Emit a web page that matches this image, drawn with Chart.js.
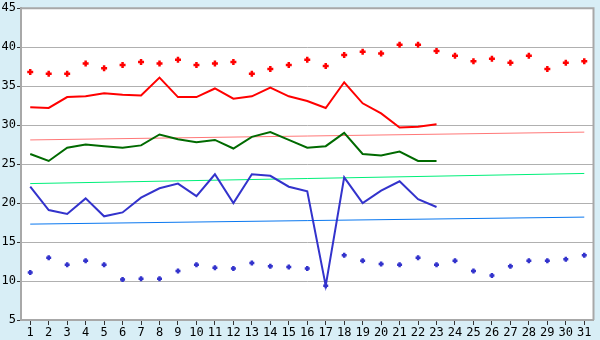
<!DOCTYPE html>
<html>
<head>
<meta charset="utf-8">
<script src="https://cdn.jsdelivr.net/npm/chart.js@4"></script>
<style>
  body { margin: 0; background: #D8EEF6; }
  canvas { display: block; }
</style>
</head>
<body>
<canvas id="chart" width="600" height="340"></canvas>
<script>
// days of the month
const days = ['1','2','3','4','5','6','7','8','9','10','11','12','13','14','15','16',
  '17','18','19','20','21','22','23','24','25','26','27','28','29','30','31'];

// red crosses (upper record)
const highDots = [36.8, 36.6, 36.6, 37.9, 37.3, 37.7, 38.1, 37.9, 38.4, 37.7, 37.9, 38.1, 36.6, 37.2, 37.7, 38.4,
  37.6, 39.0, 39.4, 39.2, 40.3, 40.3, 39.5, 38.9, 38.2, 38.5, 38.0, 38.9, 37.2, 38.0, 38.2];

// the three daily lines (days 1-23)
const highLine = [32.3, 32.2, 33.6, 33.7, 34.1, 33.9, 33.8, 36.1, 33.6, 33.6, 34.7, 33.4, 33.7, 34.8, 33.7, 33.1,
  32.2, 35.5, 32.8, 31.5, 29.7, 29.8, 30.1];
const meanLine = [26.3, 25.4, 27.1, 27.5, 27.3, 27.1, 27.4, 28.8, 28.2, 27.8, 28.1, 27.0, 28.5, 29.1, 28.1, 27.1,
  27.3, 29.0, 26.3, 26.1, 26.6, 25.4, 25.4];
const lowLine = [22.1, 19.1, 18.6, 20.6, 18.3, 18.8, 20.7, 21.9, 22.5, 20.9, 23.7, 20.0, 23.7, 23.5, 22.1, 21.5,
  9.4, 23.3, 20.0, 21.6, 22.8, 20.5, 19.5];

// blue crosses (lower record)
const lowDots = [11.1, 13.0, 12.1, 12.6, 12.1, 10.2, 10.3, 10.3, 11.3, 12.1, 11.7, 11.6, 12.3, 11.9, 11.8, 11.6,
  9.4, 13.3, 12.6, 12.2, 12.1, 13.0, 12.1, 12.6, 11.3, 10.7, 11.9, 12.6, 12.6, 12.8, 13.3];

// normals: value on day 1 and on day 31
const highNormal = [28.1, 29.1];
const meanNormal = [22.5, 23.8];
const lowNormal = [17.3, 18.2];

const yTicks = [5, 10, 15, 20, 25, 30, 35, 40, 45];

function normal(ends) {
  return [{ x: days[0], y: ends[0] }, { x: days[days.length - 1], y: ends[1] }];
}

// light blue page, white plot area, grey frame
const framePlugin = {
  id: 'frame',
  beforeDraw(chart) {
    const ctx = chart.ctx;
    const a = chart.chartArea;
    ctx.save();
    ctx.fillStyle = '#D8EEF6';
    ctx.fillRect(0, 0, chart.width, chart.height);
    ctx.fillStyle = '#FFFFFF';
    ctx.fillRect(a.left, a.top, a.right - a.left, a.bottom - a.top);
    ctx.restore();
  },
  beforeDatasetsDraw(chart) {
    const ctx = chart.ctx;
    const a = chart.chartArea;
    ctx.save();
    ctx.strokeStyle = '#A8A8A8';
    ctx.lineWidth = 2;
    ctx.beginPath();
    ctx.moveTo(a.left, a.top);
    ctx.lineTo(a.right, a.top);
    ctx.lineTo(a.right, a.bottom);
    ctx.stroke();
    ctx.restore();
  }
};

const tickFont = { family: 'DejaVu Sans Mono', size: 12 };

new Chart(document.getElementById('chart'), {
  type: 'line',
  data: {
    labels: days,
    datasets: [
      { data: normal(highNormal), borderColor: '#FF7878', borderWidth: 1, pointRadius: 0, order: 10 },
      { data: normal(meanNormal), borderColor: '#00F07A', borderWidth: 1, pointRadius: 0, order: 10 },
      { data: normal(lowNormal), borderColor: '#0A78F0', borderWidth: 1, pointRadius: 0, order: 10 },
      { data: highLine, borderColor: '#FF0000', borderWidth: 2, pointRadius: 0, order: 5 },
      { data: meanLine, borderColor: '#006A00', borderWidth: 2, pointRadius: 0, order: 5 },
      { data: lowLine, borderColor: '#3333CC', borderWidth: 2, pointRadius: 0, order: 5 },
      {
        data: highDots, showLine: false, pointStyle: 'cross', pointRadius: 3,
        pointBorderWidth: 2.5, pointBorderColor: '#FF0000', borderColor: '#FF0000', order: 1
      },
      {
        data: lowDots, showLine: false, pointStyle: 'cross', pointRadius: 2.5,
        pointBorderWidth: 2.5, pointBorderColor: '#3333CC', borderColor: '#3333CC', order: 1
      }
    ]
  },
  options: {
    responsive: false,
    animation: false,
    devicePixelRatio: 1,
    layout: { padding: { top: 5, right: 5, left: 0, bottom: 0 } },
    elements: { line: { tension: 0, fill: false } },
    plugins: { legend: { display: false }, tooltip: { enabled: false } },
    scales: {
      x: {
        type: 'category',
        offset: true,
        grid: {
          offset: false,
          drawOnChartArea: false,
          drawTicks: true,
          tickLength: 5,
          color: '#333333'
        },
        border: { color: '#A8A8A8', width: 2 },
        ticks: { color: '#000000', font: tickFont, padding: 1, maxRotation: 0, autoSkip: false },
        afterFit(scale) { scale.height = 20; }
      },
      y: {
        min: yTicks[0],
        max: yTicks[yTicks.length - 1],
        grid: { color: '#B0B0B0', lineWidth: 1, tickLength: 4, tickColor: '#333333' },
        border: { color: '#A8A8A8', width: 2 },
        ticks: {
          stepSize: 5,
          color: '#000000',
          font: tickFont,
          padding: 1
        },
        afterBuildTicks(scale) { scale.ticks = yTicks.map(v => ({ value: v })); },
        afterFit(scale) { scale.width = 21; }
      }
    }
  },
  plugins: [framePlugin]
});
</script>
</body>
</html>
